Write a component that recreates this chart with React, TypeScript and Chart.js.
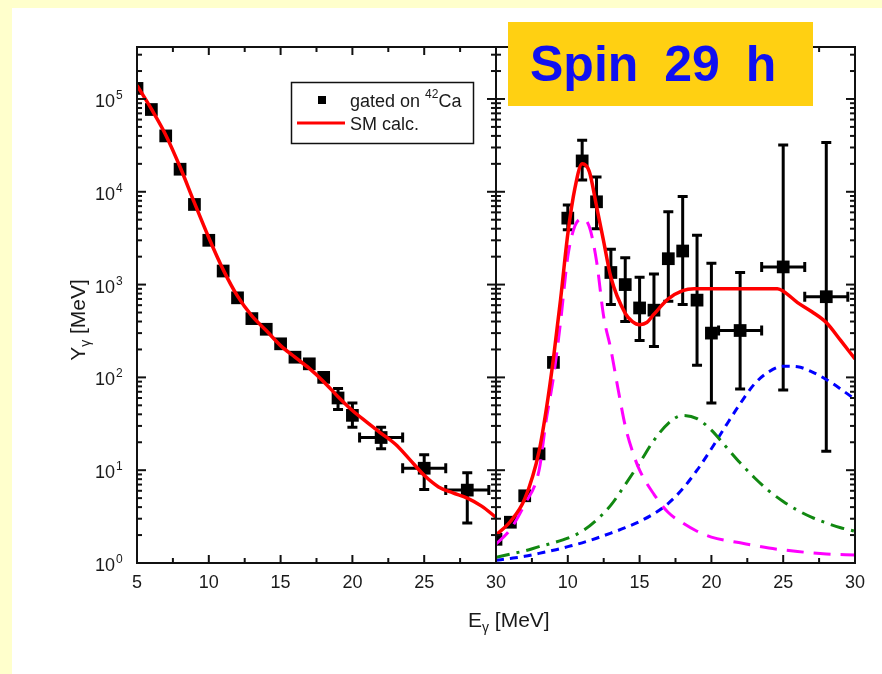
import React, { useEffect, useRef } from "react";
import { Chart, registerables } from "chart.js";

Chart.register(...registerables);

// ---------- data: left panel (gated on 42Ca, all spins) ----------
const leftX = [5, 6, 7, 8, 9, 10, 11, 12, 13, 14, 15, 16, 17, 18, 19, 20, 22, 25, 28];
const leftY = [1.3e5, 7.7e4, 4.0e4, 1.75e4, 7.3e3, 3.0e3, 1.4e3, 720, 430, 330, 230, 165, 140, 100, 60, 39, 22.5, 10.5, 6.1];
const leftYLo = [null, null, null, null, null, null, null, null, null, null, null, null, null, null, 45, 29, 17, 6.2, 2.7];
const leftYHi = [null, null, null, null, null, null, null, null, null, null, null, null, null, null, 76, 53, 29, 14.7, 9.4];
const leftXErr = [0, 0, 0, 0, 0, 0, 0, 0, 0, 0, 0, 0, 0, 0, 0, 0, 1.5, 1.5, 1.5];

const smLeftX = [5, 6, 7, 8, 9, 10, 11, 12, 13, 14, 15, 16, 17, 18, 19, 20, 21, 22, 23, 24, 25, 26, 27, 28, 29, 30];
const smLeftY = [1.4e5, 7.8e4, 4.1e4, 1.85e4, 7.6e3, 3.2e3, 1.45e3, 750, 460, 320, 220, 165, 125, 90, 62, 44, 33, 25, 19, 13, 8.8, 6.6, 5.7, 5.0, 4.1, 3.1];

// ---------- data: right panel (spin 29 h) ----------
const rightX = [5, 6, 7, 8, 9, 10, 11, 12, 13, 14, 15, 16, 17, 18, 19, 20, 22, 25, 28];
const rightY = [1.8, 2.75, 5.3, 15, 145, 5.2e3, 2.15e4, 7.8e3, 1.35e3, 1.0e3, 560, 530, 1.9e3, 2.3e3, 680, 300, 320, 1.55e3, 740];
const rightYLo = [null, null, null, null, null, 3.9e3, 1.34e4, 4.0e3, 610, 400, 250, 215, 660, 610, 135, 53, 75, 73, 16];
const rightYHi = [null, null, null, null, null, 7.2e3, 3.6e4, 1.44e4, 2.4e3, 1.95e3, 1.2e3, 1.3e3, 6.1e3, 8.9e3, 3.4e3, 1.7e3, 1.35e3, 3.2e4, 3.4e4];
const rightXErr = [0, 0, 0, 0, 0, 0, 0, 0, 0, 0, 0, 0, 0, 0, 0, 0, 1.5, 1.5, 1.5];

const smRightX = [5, 6, 7, 8, 8.5, 9, 9.5, 10, 10.5, 11, 11.5, 12, 12.5, 13, 14, 14.5, 15, 15.5, 16, 17, 18, 18.8, 20, 22, 24, 24.6, 25, 26, 27, 28, 29, 30];
const smRightY = [2.0, 2.8, 4.9, 16, 45, 160, 700, 3.5e3, 1.1e4, 2.0e4, 1.65e4, 7.0e3, 2.9e3, 1.2e3, 490, 400, 370, 390, 480, 700, 860, 900, 900, 900, 900, 900, 850, 640, 510, 390, 250, 158];

const gdrX = [5, 6, 7, 8, 8.5, 9, 9.5, 10, 10.5, 11, 11.5, 12, 12.5, 13, 13.5, 14, 14.5, 15, 16, 17, 18, 19, 20, 22, 24, 26, 28, 30];
const gdrY = [1.6, 2.3, 4.3, 10, 35, 100, 400, 2000, 4300, 5100, 4200, 1800, 450, 200, 75, 30, 16, 10, 5.5, 3.5, 2.7, 2.2, 1.9, 1.65, 1.45, 1.33, 1.25, 1.22];

const greenX = [5, 6, 7, 8, 9, 10, 11, 12, 13, 14, 15, 16, 17, 18, 19, 20, 21, 22, 23, 24, 25, 26, 27, 28, 29, 30];
const greenY = [1.15, 1.25, 1.35, 1.5, 1.65, 1.85, 2.2, 2.9, 4.2, 7.0, 12, 21, 32, 39, 36, 27, 18, 12, 8.3, 6.0, 4.6, 3.7, 3.1, 2.7, 2.4, 2.2];

const blueX = [5, 6, 7, 8, 9, 10, 11, 12, 13, 14, 15, 16, 17, 18, 19, 20, 21, 22, 23, 24, 25, 26, 27, 28, 29, 30];
const blueY = [1.07, 1.12, 1.18, 1.27, 1.37, 1.5, 1.65, 1.85, 2.1, 2.4, 2.8, 3.4, 4.4, 6.3, 10, 17, 30, 52, 85, 115, 132, 130, 115, 95, 75, 58];

// ---------- axes ----------
const xMin = 5;
const xMax = 30;
const yMin = 1;
const yMax = Math.pow(10, 5.56);
const xTickValues = [5, 7.5, 10, 12.5, 15, 17.5, 20, 22.5, 25, 27.5, 30];
const xLabelsLeft = [5, 10, 15, 20, 25, 30];
const xLabelsRight = [10, 15, 20, 25, 30];
const yDecades = [0, 1, 2, 3, 4, 5];

const legendData = "gated on ";
const legendIso = "42";
const legendEl = "Ca";
const legendModel = "SM calc.";
const spinLabel = "Spin 29 h";

const FONT = "'Liberation Sans', Arial, Helvetica, sans-serif";
const TXT = "#1a1a1a";

const pts = (xs: number[], ys: number[]) => xs.map((x, i) => ({ x, y: ys[i] }));

function drawErrors(ctx: CanvasRenderingContext2D, xs: number[], ys: number[], lo: (number | null)[], hi: (number | null)[], xe: number[], sx: any, sy: any) {
  const cap = 5;
  for (let i = 0; i < xs.length; i++) {
    const px = sx.getPixelForValue(xs[i]);
    const py = sy.getPixelForValue(ys[i]);
    ctx.beginPath();
    if (lo[i] != null && hi[i] != null) {
      const p1 = sy.getPixelForValue(hi[i] as number);
      const p2 = sy.getPixelForValue(lo[i] as number);
      ctx.moveTo(px, p1); ctx.lineTo(px, p2);
      ctx.moveTo(px - cap, p1); ctx.lineTo(px + cap, p1);
      ctx.moveTo(px - cap, p2); ctx.lineTo(px + cap, p2);
    }
    if (xe[i]) {
      const a = sx.getPixelForValue(xs[i] - xe[i]);
      const b = sx.getPixelForValue(xs[i] + xe[i]);
      ctx.moveTo(a, py); ctx.lineTo(b, py);
      ctx.moveTo(a, py - cap); ctx.lineTo(a, py + cap);
      ctx.moveTo(b, py - cap); ctx.lineTo(b, py + cap);
    }
    ctx.stroke();
  }
}

const panelPlugin = {
  id: "panelAxes",
  beforeDatasetsDraw(chart: any) {
    const ctx = chart.ctx as CanvasRenderingContext2D;
    const { xL, xR, y } = chart.scales;
    ctx.save();
    ctx.strokeStyle = "#000";
    ctx.lineWidth = 3;
    drawErrors(ctx, leftX, leftY, leftYLo, leftYHi, leftXErr, xL, y);
    drawErrors(ctx, rightX, rightY, rightYLo, rightYHi, rightXErr, xR, y);
    ctx.restore();
  },
  afterDatasetsDraw(chart: any) {
    const ctx = chart.ctx as CanvasRenderingContext2D;
    const { xL, xR, y } = chart.scales;
    const top = chart.chartArea.top;
    const bottom = chart.chartArea.bottom;
    ctx.save();
    ctx.strokeStyle = "#111";
    ctx.lineWidth = 2;
    const line = (a: number, b: number, c: number, d: number) => {
      ctx.beginPath(); ctx.moveTo(a, b); ctx.lineTo(c, d); ctx.stroke();
    };
    for (const s of [xL, xR]) {
      const l = s.getPixelForValue(xMin);
      const r = s.getPixelForValue(xMax);
      ctx.strokeRect(l, top, r - l, bottom - top);
      for (const v of xTickValues) {
        const p = s.getPixelForValue(v);
        const len = v % 5 === 0 ? 8 : 5;
        line(p, bottom, p, bottom - len);
        line(p, top, p, top + len);
      }
      for (const d of yDecades) {
        for (let m = 1; m <= 9; m++) {
          const v = m * Math.pow(10, d);
          if (v > yMax) break;
          const p = y.getPixelForValue(v);
          const len = m === 1 ? 9 : 5;
          line(l, p, l + len, p);
          line(r, p, r - len, p);
        }
      }
    }
    // tick labels
    ctx.fillStyle = TXT;
    ctx.font = `18px ${FONT}`;
    ctx.textAlign = "center";
    ctx.textBaseline = "alphabetic";
    for (const v of xLabelsLeft) ctx.fillText(String(v), xL.getPixelForValue(v), bottom + 25);
    for (const v of xLabelsRight) ctx.fillText(String(v), xR.getPixelForValue(v), bottom + 25);
    const l0 = xL.getPixelForValue(xMin);
    for (const d of yDecades) {
      const p = y.getPixelForValue(Math.pow(10, d));
      ctx.font = `18px ${FONT}`;
      ctx.textAlign = "right";
      ctx.fillText("10", l0 - 22, p + 8);
      ctx.font = `12px ${FONT}`;
      ctx.textAlign = "left";
      ctx.fillText(String(d), l0 - 21, p + 0);
    }
    // x title
    ctx.textAlign = "left";
    let xx = 468;
    const by = 627;
    ctx.font = `21px ${FONT}`;
    ctx.fillText("E", xx, by);
    xx += ctx.measureText("E").width;
    ctx.font = `14px ${FONT}`;
    ctx.fillText("γ", xx, by + 5);
    xx += ctx.measureText("γ").width;
    ctx.font = `21px ${FONT}`;
    ctx.fillText(" [MeV]", xx, by);
    // y title (rotated)
    ctx.save();
    ctx.translate(85, 320);
    ctx.rotate(-Math.PI / 2);
    ctx.font = `21px ${FONT}`;
    const wY = ctx.measureText("Y").width;
    const wR = ctx.measureText(" [MeV]").width;
    ctx.font = `14px ${FONT}`;
    const wG = ctx.measureText("γ").width;
    let tx = -(wY + wR + wG) / 2;
    ctx.font = `21px ${FONT}`;
    ctx.fillText("Y", tx, 0);
    tx += wY;
    ctx.font = `14px ${FONT}`;
    ctx.fillText("γ", tx, 5);
    tx += wG;
    ctx.font = `21px ${FONT}`;
    ctx.fillText(" [MeV]", tx, 0);
    ctx.restore();
    // legend
    ctx.lineWidth = 1.5;
    ctx.strokeStyle = "#111";
    ctx.strokeRect(291.5, 82.5, 182, 61);
    ctx.fillStyle = "#000";
    ctx.fillRect(318, 96, 8, 8);
    ctx.strokeStyle = "#ff0000";
    ctx.lineWidth = 3;
    line(297, 123, 345, 123);
    ctx.fillStyle = TXT;
    ctx.font = `18px ${FONT}`;
    let lx = 350;
    ctx.fillText(legendData, lx, 107);
    lx += ctx.measureText(legendData).width;
    ctx.font = `12px ${FONT}`;
    ctx.fillText(legendIso, lx, 98);
    lx += ctx.measureText(legendIso).width;
    ctx.font = `18px ${FONT}`;
    ctx.fillText(legendEl, lx, 107);
    ctx.fillText(legendModel, 350, 130);
    ctx.restore();
  },
};

export default function App() {
  const ref = useRef<HTMLCanvasElement | null>(null);
  useEffect(() => {
    if (!ref.current) return;
    const lineDs = (data: any[], axis: string, color: string, dash: number[], width: number) => ({
      data,
      xAxisID: axis,
      yAxisID: "y",
      showLine: true,
      borderColor: color,
      backgroundColor: color,
      borderWidth: width,
      borderDash: dash,
      pointRadius: 0,
      cubicInterpolationMode: "monotone",
      fill: false,
    });
    const pointDs = (data: any[], axis: string) => ({
      data,
      xAxisID: axis,
      yAxisID: "y",
      showLine: false,
      pointStyle: "rect",
      pointRadius: 9,
      pointBorderWidth: 0,
      borderWidth: 0,
      backgroundColor: "#000",
      borderColor: "#000",
    });
    const chart = new Chart(ref.current, {
      type: "scatter",
      data: {
        datasets: [
          lineDs(pts(smLeftX, smLeftY), "xL", "#ff0000", [], 3.5),
          lineDs(pts(smRightX, smRightY), "xR", "#ff0000", [], 3.5),
          lineDs(pts(gdrX, gdrY), "xR", "#ff00ff", [17, 10], 3),
          lineDs(pts(greenX, greenY), "xR", "#118811", [14, 7, 3, 7], 3),
          lineDs(pts(blueX, blueY), "xR", "#0000ff", [8, 6], 3),
          pointDs(pts(leftX, leftY), "xL"),
          pointDs(pts(rightX, rightY), "xR"),
        ] as any,
      },
      options: {
        responsive: false,
        animation: false,
        events: [],
        layout: { padding: { left: 137, right: 27, top: 47, bottom: 111 } },
        plugins: { legend: { display: false }, tooltip: { enabled: false }, title: { display: false } },
        scales: {
          xL: { type: "linear", position: "bottom", stack: "panels", stackWeight: 1, min: xMin, max: xMax, display: false },
          xR: { type: "linear", position: "bottom", stack: "panels", stackWeight: 1, min: xMin, max: xMax, display: false },
          y: { type: "logarithmic", position: "left", min: yMin, max: yMax, display: false },
        },
      } as any,
      plugins: [panelPlugin],
    });
    return () => chart.destroy();
  }, []);

  return (
    <div style={{ position: "fixed", left: 0, top: 0, width: 882, height: 674, background: "#FFFFCC", overflow: "hidden" }}>
      <div style={{ position: "absolute", left: 12, top: 8, width: 870, height: 666, background: "#ffffff" }} />
      <canvas ref={ref} width={882} height={674} style={{ position: "absolute", left: 0, top: 0, width: 882, height: 674 }} />
      <div
        style={{
          position: "absolute",
          left: 508,
          top: 22,
          width: 305,
          height: 84,
          background: "#FFD012",
          color: "#1010F0",
          fontFamily: FONT,
          fontWeight: "bold",
          fontSize: 50,
          lineHeight: "84px",
          paddingLeft: 22,
          boxSizing: "border-box",
          wordSpacing: 12,
          whiteSpace: "nowrap",
        }}
      >
        {spinLabel}
      </div>
    </div>
  );
}
